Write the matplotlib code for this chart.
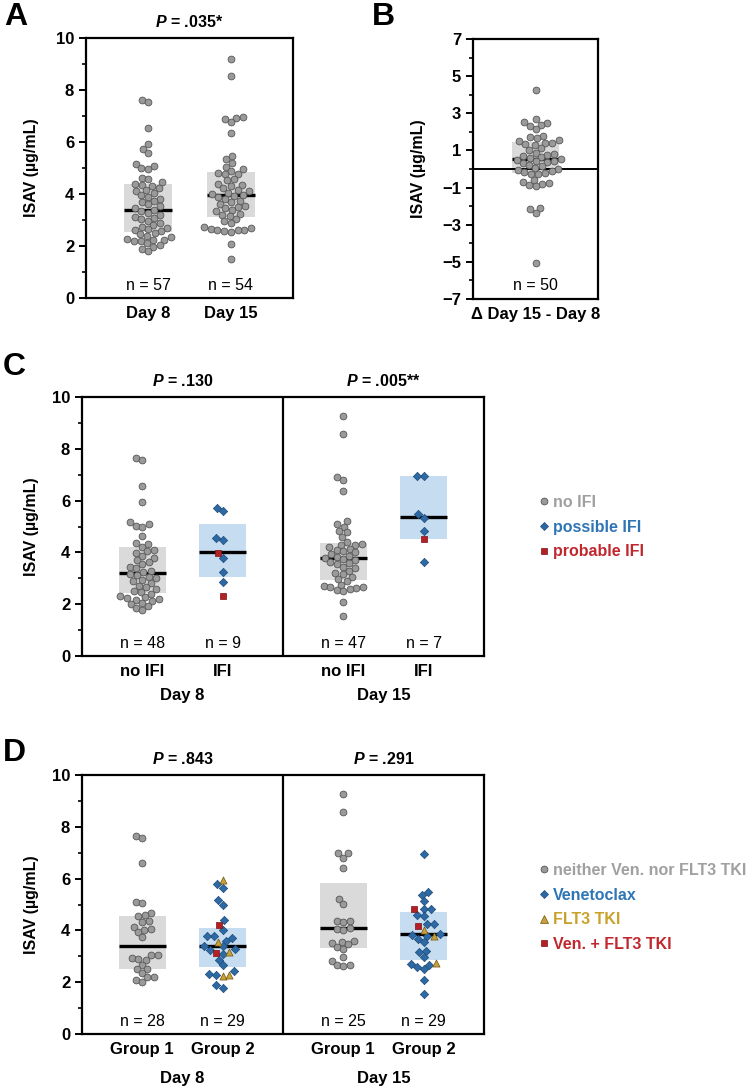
import numpy as np
import matplotlib
matplotlib.use('Agg')
import matplotlib.pyplot as plt
from matplotlib.lines import Line2D
from matplotlib.ticker import MultipleLocator

plt.rcParams['font.family'] = ['Liberation Sans', 'DejaVu Sans']
plt.rcParams['mathtext.fontset'] = 'custom'
plt.rcParams['mathtext.bfit'] = 'Liberation Sans:bold:italic'
plt.rcParams['mathtext.rm'] = 'Liberation Sans:bold'

# ---------------- data ----------------
# Panel A
a_labels = ['Day 8', 'Day 15']
a_day8 = [7.62, 7.54, 6.55, 5.91, 5.74, 5.59, 5.15, 5.06, 5.01, 4.95, 4.63, 4.56, 4.45, 4.37, 4.36,
          4.30, 4.22, 4.15, 4.10, 4.03, 3.95, 3.90, 3.82, 3.75, 3.68, 3.60, 3.52, 3.45, 3.37,
          3.33, 3.28, 3.20, 3.12, 3.08, 3.02, 2.95, 2.88, 2.82, 2.75, 2.70, 2.66, 2.62, 2.57,
          2.50, 2.45, 2.38, 2.33, 2.28, 2.25, 2.22, 2.20, 2.18, 2.10, 2.03, 1.98, 1.87, 1.80]
a_day15 = [9.19, 8.55, 6.95, 6.94, 6.87, 6.76, 6.35, 5.47, 5.33, 5.21, 5.05, 4.97, 4.88,
           4.80, 4.78, 4.77, 4.59, 4.52, 4.40, 4.35, 4.30, 4.22, 4.15, 4.10, 4.05, 4.00, 3.98,
           3.93, 3.88, 3.82, 3.75, 3.70, 3.60, 3.55, 3.50, 3.45, 3.40, 3.33, 3.25, 3.20, 3.15,
           3.05, 2.95, 2.88, 2.75, 2.70, 2.65, 2.63, 2.62, 2.60, 2.58, 2.55, 2.08, 1.51]
a_median = [3.37, 3.96]
a_q1 = [2.55, 3.13]
a_q3 = [4.37, 4.83]
a_p = '.035*'

# Panel B
b_label = 'Δ Day 15 - Day 8'
b_delta = [4.25, 2.67, 2.52, 2.49, 2.36, 2.31, 2.13, 1.78, 1.73, 1.65, 1.55, 1.50,
           1.42, 1.38, 1.33, 1.30, 1.12, 1.05, 0.88, 0.82, 0.78, 0.72, 0.65, 0.60, 0.55,
           0.50, 0.45, 0.42, 0.38, 0.30, 0.22, 0.15, 0.05, 0.00, -0.05, -0.12, -0.18, -0.20,
           -0.25, -0.28, -0.57, -0.69, -0.75, -0.80, -0.85, -0.93, -2.08, -2.17, -2.35, -5.04]
b_median = 0.52
b_q1 = -0.22
b_q3 = 1.45

# Panel C
c_labels = ['no IFI', 'IFI', 'no IFI', 'IFI']
c_days = ['Day 8', 'Day 15']
c_p = ['.130', '.005**']
c_d8_noifi = [7.65, 7.56, 6.57, 5.93, 5.18, 5.09, 5.01, 4.99, 4.64, 4.38, 4.34, 4.22,
              4.11, 4.06, 3.98, 3.88, 3.77, 3.70, 3.62, 3.55, 3.45, 3.38, 3.30, 3.25,
              3.18, 3.12, 3.05, 3.00, 2.95, 2.88, 2.80, 2.72, 2.65, 2.58, 2.52, 2.47,
              2.40, 2.33, 2.28, 2.24, 2.20, 2.18, 2.12, 2.05, 2.02, 1.92, 1.85, 1.78]
c_d8_possible = [5.73, 5.60, 4.56, 4.46, 3.78, 3.25, 2.87]
c_d8_probable = [3.98, 2.33]
c_d15_noifi = [9.25, 8.59, 6.92, 6.79, 6.37, 5.22, 5.08, 5.00, 4.82, 4.78, 4.60, 4.42,
               4.33, 4.30, 4.28, 4.20, 4.15, 4.10, 4.05, 4.00, 3.95, 3.88, 3.82, 3.79,
               3.75, 3.70, 3.62, 3.58, 3.55, 3.45, 3.38, 3.30, 3.22, 3.15, 3.05, 2.98,
               2.88, 2.75, 2.70, 2.68, 2.65, 2.63, 2.60, 2.55, 2.50, 2.10, 1.53]
c_d15_possible = [6.95, 6.95, 5.48, 5.34, 4.81, 3.64]
c_d15_probable = [4.53]
c_median = [3.21, 4.01, 3.78, 5.38]
c_q1 = [2.44, 3.06, 2.93, 4.53]
c_q3 = [4.19, 5.08, 4.38, 6.95]

# Panel D
d_labels = ['Group 1', 'Group 2', 'Group 1', 'Group 2']
d_days = ['Day 8', 'Day 15']
d_p = ['.843', '.291']
d_d8_g1 = [7.65, 7.57, 6.59, 5.09, 5.04, 4.67, 4.60, 4.54, 4.38, 4.34, 4.13, 4.05, 4.02, 3.92,
           3.73, 3.06, 3.06, 2.92, 2.89, 2.87, 2.67, 2.51, 2.51, 2.35, 2.22, 2.19, 2.07, 2.02]
d_d8_ven = [5.78, 5.63, 5.18, 4.99, 4.41, 4.00, 3.79, 3.79, 3.61, 3.70, 3.38, 3.25, 3.28, 3.38,
            3.10, 2.87, 2.65, 2.44, 2.33, 2.26, 1.88, 1.79]
d_d8_flt3 = [5.95, 3.57, 3.15, 2.24, 2.26]
d_d8_both = [4.22, 3.12]
d_d15_g1 = [9.25, 8.59, 6.98, 6.98, 6.81, 6.40, 5.22, 5.03, 4.38, 4.36, 4.31, 4.09, 4.05,
            4.02, 3.58, 3.55, 3.53, 3.47, 3.34, 3.29, 2.99, 2.83, 2.65, 2.65, 2.61]
d_d15_ven = [6.94, 5.50, 5.37, 5.12, 4.82, 4.82, 4.54, 4.60, 4.25, 4.25, 3.87, 3.66, 3.77,
             3.83, 3.55, 3.16, 3.21, 2.96, 2.71, 2.65, 2.57, 2.51, 2.10, 1.56]
d_d15_flt3 = [4.02, 3.77, 2.74]
d_d15_both = [4.83, 4.18]
d_median = [3.41, 3.38, 4.09, 3.86]
d_q1 = [2.51, 2.57, 3.32, 2.87]
d_q3 = [4.56, 4.09, 5.82, 4.72]

# ---------------- styles ----------------
GRAY_BOX = '#dadada'
BLUE_BOX = '#c6dcf1'
STY = {
    'gray': dict(marker='o', s=24, facecolor='#9a9a9a', edgecolor='#555555', linewidths=0.6),
    'ven': dict(marker='D', s=18, facecolor='#2d6aa5', edgecolor='#1d4a78', linewidths=0.5),
    'flt3': dict(marker='^', s=26, facecolor='#c9a13b', edgecolor='#6e5410', linewidths=0.5),
    'both': dict(marker='s', s=17, facecolor='#b52025', edgecolor='#7a1015', linewidths=0.5),
}
W, H = 748, 1090
fig = plt.figure(figsize=(W / 100, H / 100), dpi=100)


def add_ax(left, top, right, bottom):
    return fig.add_axes([left / W, 1 - bottom / H, (right - left) / W, (bottom - top) / H])


def style_ax(ax, ylo, yhi, major, minor):
    ax.set_ylim(ylo, yhi)
    ax.yaxis.set_major_locator(MultipleLocator(major))
    ax.yaxis.set_minor_locator(MultipleLocator(minor))
    for sp in ax.spines.values():
        sp.set_linewidth(1.6)
    ax.tick_params(axis='y', which='major', direction='out', length=5, width=1.4,
                   labelsize=12)
    ax.tick_params(axis='y', which='minor', direction='out', length=3, width=1.2)
    ax.tick_params(axis='x', length=0, labelsize=12, pad=6)
    for t in ax.get_yticklabels() + ax.get_xticklabels():
        t.set_fontweight('bold')
    ax.set_ylabel('ISAV (µg/mL)', fontsize=11.5, fontweight='bold')


def swarm(ax, x0, ys, d=6.8):
    ys = np.asarray(ys, float)
    disp = ax.transData.transform(np.column_stack([np.full(len(ys), x0), ys]))
    cx = disp[0, 0]
    py = disp[:, 1]
    xs = np.full(len(ys), cx)
    placed = []
    for i in np.argsort(py, kind='stable'):
        y = py[i]
        neigh = [(px, qy) for px, qy in placed if abs(qy - y) < d]
        cands = [cx]
        for px, qy in neigh:
            dx = np.sqrt(d * d - (qy - y) ** 2)
            cands += [px - dx, px + dx]
        cands.sort(key=lambda c: abs(c - cx))
        for c in cands:
            if all((c - px) ** 2 + (y - qy) ** 2 >= d * d - 1e-6 for px, qy in neigh):
                break
        placed.append((c, y))
        xs[i] = c
    return ax.transData.inverted().transform(np.column_stack([xs, py]))[:, 0]


def group(ax, x0, parts, q1, q3, med, box_color, width):
    ax.add_patch(plt.Rectangle((x0 - width / 2, q1), width, q3 - q1,
                               facecolor=box_color, edgecolor='none', zorder=1))
    ax.plot([x0 - width / 2, x0 + width / 2], [med, med], color='black', lw=2.4,
            solid_capstyle='butt', zorder=2)
    vals, kinds = [], []
    for kind, v in parts:
        vals += list(v)
        kinds += [kind] * len(v)
    xs = swarm(ax, x0, vals)
    kinds = np.array(kinds)
    vals = np.array(vals)
    for kind in ['gray', 'ven', 'both', 'flt3']:
        m = kinds == kind
        if m.any():
            ax.scatter(xs[m], vals[m], zorder=3, **STY[kind])


def ptitle(ax, x, txt):
    ax.text(x, 1.06, r'$\mathbfit{P}$' + ' = ' + txt, transform=ax.get_xaxis_transform(),
            ha='center', va='center', fontsize=11.5, fontweight='bold')


# ---------------- panel A ----------------
axA = add_ax(86, 38, 293, 298)
axA.set_xlim(0, 2)
style_ax(axA, 0, 10, 2, 1)
axA.yaxis.labelpad = 12
posA = [0.6, 1.4]
axA.set_xticks(posA)
axA.set_xticklabels(a_labels, fontweight='bold')
for x, v, q1, q3, md in zip(posA, [a_day8, a_day15], a_q1, a_q3, a_median):
    group(axA, x, [('gray', v)], q1, q3, md, GRAY_BOX, 0.46)
    axA.text(x, 0.5, f'n = {len(v)}', ha='center', va='center', fontsize=11.5)
ptitle(axA, 1.0, a_p)

# ---------------- panel B ----------------
axB = add_ax(473, 39, 598, 299)
axB.set_xlim(0, 1)
style_ax(axB, -7, 7, 2, 1)
axB.set_yticks(np.arange(-7, 8, 2))
axB.yaxis.labelpad = 12
axB.axhline(0, color='black', lw=1.4, zorder=2.5)
axB.set_xticks([0.5])
axB.set_xticklabels([b_label], fontweight='bold')
group(axB, 0.5, [('gray', b_delta)], b_q1, b_q3, b_median, GRAY_BOX, 0.376)
axB.text(0.5, -6.25, f'n = {len(b_delta)}', ha='center', va='center', fontsize=11.5)

# ---------------- panel C ----------------
pos4 = [0.6, 1.4, 2.6, 3.4]
axC = add_ax(82, 397, 484, 656)
axC.set_xlim(0, 4)
style_ax(axC, 0, 10, 2, 1)
axC.yaxis.labelpad = 9
axC.axvline(2, color='black', lw=1.6)
axC.set_xticks(pos4)
axC.set_xticklabels(c_labels, fontweight='bold')
c_parts = [[('gray', c_d8_noifi)],
           [('ven', c_d8_possible), ('both', c_d8_probable)],
           [('gray', c_d15_noifi)],
           [('ven', c_d15_possible), ('both', c_d15_probable)]]
for i, (x, parts) in enumerate(zip(pos4, c_parts)):
    box = GRAY_BOX if i % 2 == 0 else BLUE_BOX
    group(axC, x, parts, c_q1[i], c_q3[i], c_median[i], box, 0.47)
    n = sum(len(v) for _, v in parts)
    axC.text(x, 0.5, f'n = {n}', ha='center', va='center', fontsize=11.5)
for x, day, p in zip([1, 3], c_days, c_p):
    axC.text(x, -0.152, day, transform=axC.get_xaxis_transform(), ha='center', va='center',
             fontsize=12, fontweight='bold')
    ptitle(axC, x, p)

# ---------------- panel D ----------------
axD = add_ax(82, 775, 484, 1034)
axD.set_xlim(0, 4)
style_ax(axD, 0, 10, 2, 1)
axD.yaxis.labelpad = 9
axD.axvline(2, color='black', lw=1.6)
axD.set_xticks(pos4)
axD.set_xticklabels(d_labels, fontweight='bold')
d_parts = [[('gray', d_d8_g1)],
           [('ven', d_d8_ven), ('flt3', d_d8_flt3), ('both', d_d8_both)],
           [('gray', d_d15_g1)],
           [('ven', d_d15_ven), ('flt3', d_d15_flt3), ('both', d_d15_both)]]
for i, (x, parts) in enumerate(zip(pos4, d_parts)):
    box = GRAY_BOX if i % 2 == 0 else BLUE_BOX
    group(axD, x, parts, d_q1[i], d_q3[i], d_median[i], box, 0.47)
    n = sum(len(v) for _, v in parts)
    axD.text(x, 0.5, f'n = {n}', ha='center', va='center', fontsize=11.5)
for x, day, p in zip([1, 3], d_days, d_p):
    axD.text(x, -0.17, day, transform=axD.get_xaxis_transform(), ha='center', va='center',
             fontsize=12, fontweight='bold')
    ptitle(axD, x, p)


# ---------------- legends ----------------
def handle(kind):
    st = STY[kind]
    return Line2D([], [], linestyle='none', marker=st['marker'], markersize=np.sqrt(st['s']),
                  markerfacecolor=st['facecolor'], markeredgecolor=st['edgecolor'],
                  markeredgewidth=st['linewidths'])


leg_kw = dict(loc='upper left', frameon=False, handlelength=0.6, handletextpad=0.3,
              labelspacing=0.6, borderpad=0, borderaxespad=0,
              prop={'weight': 'bold', 'size': 11.5})
fig.legend([handle('gray'), handle('ven'), handle('both')],
           ['no IFI', 'possible IFI', 'probable IFI'],
           bbox_to_anchor=(539 / W, 1 - 495 / H),
           labelcolor=['#a0a0a0', '#2e75b6', '#c0282d'], **leg_kw)
fig.legend([handle('gray'), handle('ven'), handle('flt3'), handle('both')],
           ['neither Ven. nor FLT3 TKI', 'Venetoclax', 'FLT3 TKI', 'Ven. + FLT3 TKI'],
           bbox_to_anchor=(539 / W, 1 - 863 / H),
           labelcolor=['#a0a0a0', '#2e75b6', '#c9a22a', '#c0282d'], **leg_kw)

# panel letters
for letter, x, y in [('A', 4, 2), ('B', 372, 2), ('C', 3, 352), ('D', 3, 738)]:
    fig.text(x / W, 1 - y / H, letter, ha='left', va='top', fontsize=23, fontweight='bold')

fig.savefig('out.png', dpi=100)
